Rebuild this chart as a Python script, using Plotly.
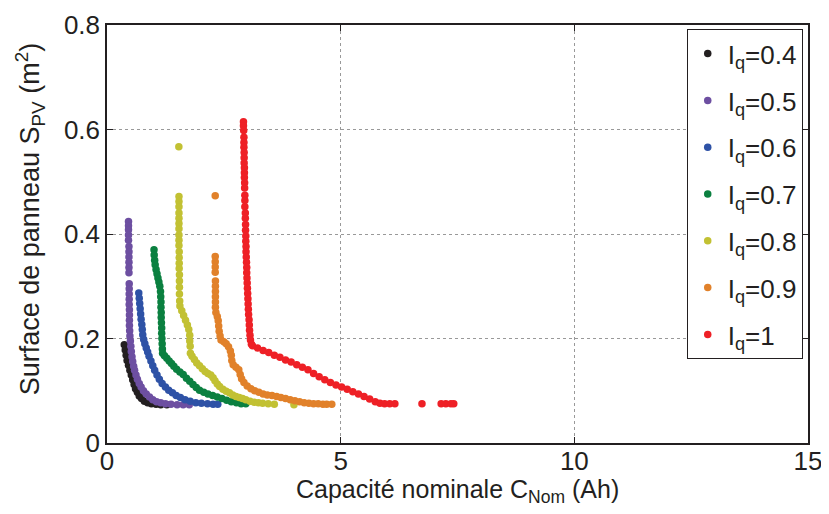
import plotly.graph_objects as go

# Iq = 0.4
iq04_x = [0.37, 0.39, 0.41, 0.43, 0.46, 0.49, 0.52, 0.55, 0.58, 0.61, 0.65, 0.69, 0.74, 0.80, 0.87,
          0.95, 1.05, 1.15, 1.28]
iq04_y = [0.188, 0.178, 0.168, 0.158, 0.149, 0.139, 0.130, 0.121, 0.112, 0.104, 0.097, 0.090, 0.085,
          0.080, 0.077, 0.075, 0.074, 0.073, 0.073]

# Iq = 0.5
iq05_x = [0.46, 0.46, 0.46, 0.46, 0.46, 0.47, 0.47, 0.47, 0.47, 0.47, 0.47, 0.475, 0.475, 0.475, 0.475,
          0.475, 0.48, 0.48, 0.48, 0.48, 0.485, 0.49, 0.50, 0.51, 0.52, 0.535, 0.55, 0.57, 0.59, 0.62,
          0.65, 0.69, 0.73, 0.78, 0.84, 0.91, 0.98, 1.06, 1.15, 1.25, 1.37, 1.50, 1.63, 1.76]
iq05_y = [0.424, 0.416, 0.408, 0.398, 0.388, 0.376, 0.366, 0.356, 0.346, 0.336, 0.326, 0.305, 0.295,
          0.285, 0.275, 0.265, 0.255, 0.245, 0.235, 0.225, 0.215, 0.205, 0.195, 0.185, 0.175, 0.165,
          0.156, 0.147, 0.139, 0.130, 0.122, 0.114, 0.107, 0.100, 0.094, 0.088, 0.083, 0.079, 0.077,
          0.075, 0.074, 0.073, 0.073, 0.073]

# Iq = 0.6
iq06_x = [0.68, 0.69, 0.70, 0.71, 0.72, 0.73, 0.745, 0.755, 0.765, 0.785, 0.81, 0.84, 0.87, 0.90, 0.94,
          0.98, 1.02, 1.07, 1.12, 1.18, 1.25, 1.32, 1.40, 1.48, 1.57, 1.67, 1.78, 1.90, 2.02, 2.15,
          2.27, 2.37]
iq06_y = [0.287, 0.277, 0.267, 0.257, 0.247, 0.237, 0.227, 0.217, 0.207, 0.198, 0.190, 0.182, 0.174,
          0.166, 0.157, 0.148, 0.139, 0.130, 0.122, 0.114, 0.107, 0.101, 0.096, 0.091, 0.087, 0.083,
          0.080, 0.077, 0.076, 0.075, 0.074, 0.074]

# Iq = 0.7
iq07_x = [1.006, 1.01, 1.02, 1.03, 1.05, 1.07, 1.09, 1.11, 1.13, 1.145, 1.15, 1.155, 1.155, 1.16, 1.16,
          1.165, 1.17, 1.17, 1.175, 1.18, 1.185, 1.19, 1.23, 1.28, 1.33, 1.38, 1.43, 1.49, 1.56, 1.63,
          1.70, 1.77, 1.84, 1.91, 1.98, 2.07, 2.16, 2.26, 2.36, 2.46, 2.56, 2.66, 2.77, 2.87, 2.97]
iq07_y = [0.370, 0.360, 0.350, 0.341, 0.332, 0.324, 0.316, 0.308, 0.300, 0.290, 0.280, 0.270, 0.260,
          0.250, 0.240, 0.230, 0.220, 0.210, 0.200, 0.190, 0.180, 0.172, 0.167, 0.162, 0.157, 0.152,
          0.147, 0.141, 0.136, 0.131, 0.124, 0.118, 0.112, 0.106, 0.101, 0.097, 0.094, 0.091, 0.088,
          0.085, 0.082, 0.079, 0.077, 0.075, 0.075]

# Iq = 0.8
iq08_x = [1.537, 1.54, 1.54, 1.54, 1.54, 1.54, 1.54, 1.54, 1.54, 1.54, 1.54, 1.545, 1.545, 1.545,
          1.545, 1.55, 1.55, 1.55, 1.55, 1.555, 1.56, 1.60, 1.64, 1.68, 1.72, 1.75, 1.77, 1.77, 1.78,
          1.785, 1.82, 1.87, 1.92, 1.98, 2.04, 2.10, 2.16, 2.22, 2.27, 2.31, 2.36, 2.41, 2.48, 2.55,
          2.62, 2.69, 2.76, 2.83, 2.90, 2.97, 3.06, 3.15, 3.24, 3.33, 3.45, 3.58, 4.00]
iq08_y = [0.567, 0.472, 0.462, 0.452, 0.440, 0.430, 0.420, 0.410, 0.398, 0.388, 0.378, 0.366, 0.355,
          0.344, 0.334, 0.322, 0.310, 0.298, 0.285, 0.272, 0.262, 0.253, 0.244, 0.235, 0.226, 0.217,
          0.206, 0.195, 0.185, 0.172, 0.166, 0.160, 0.153, 0.148, 0.142, 0.137, 0.133, 0.130, 0.125,
          0.119, 0.113, 0.108, 0.103, 0.099, 0.096, 0.092, 0.089, 0.087, 0.085, 0.083, 0.080, 0.078,
          0.077, 0.076, 0.075, 0.074, 0.073]

# Iq = 0.9
iq09_x = [2.316, 2.316, 2.316, 2.316, 2.316, 2.32, 2.32, 2.32, 2.32, 2.32, 2.32, 2.33, 2.36, 2.38,
          2.39, 2.40, 2.42, 2.44, 2.50, 2.55, 2.60, 2.64, 2.66, 2.67, 2.70, 2.76, 2.82, 2.85, 2.88,
          2.93, 3.00, 3.08, 3.16, 3.25, 3.34, 3.43, 3.53, 3.63, 3.72, 3.82, 3.92, 4.02, 4.12, 4.22,
          4.32, 4.42, 4.52, 4.62, 4.70, 4.81]
iq09_y = [0.473, 0.357, 0.347, 0.337, 0.327, 0.310, 0.300, 0.290, 0.280, 0.270, 0.260, 0.250, 0.242,
          0.234, 0.224, 0.214, 0.205, 0.197, 0.194, 0.190, 0.184, 0.176, 0.168, 0.158, 0.150, 0.145,
          0.140, 0.131, 0.123, 0.116, 0.109, 0.104, 0.100, 0.097, 0.094, 0.092, 0.091, 0.089, 0.087,
          0.085, 0.083, 0.081, 0.079, 0.077, 0.076, 0.075, 0.075, 0.074, 0.074, 0.074]

# Iq = 1
iq10_x = [2.92, 2.92, 2.925, 2.93, 2.93, 2.93, 2.935, 2.935, 2.935, 2.94, 2.94, 2.94, 2.945, 2.945,
          2.95, 2.95, 2.95, 2.96, 2.96, 2.965, 2.965, 2.97, 2.97, 2.975, 2.975, 2.98, 2.985, 2.99,
          2.99, 2.995, 3.00, 3.005, 3.01, 3.015, 3.02, 3.025, 3.03, 3.04, 3.045, 3.05, 3.06, 3.07,
          3.09, 3.115, 3.22, 3.34, 3.46, 3.58, 3.70, 3.82, 3.94, 4.06, 4.18, 4.30, 4.42, 4.54, 4.66,
          4.78, 4.90, 5.02, 5.14, 5.26, 5.38, 5.50, 5.62, 5.74, 5.84, 5.94, 6.05, 6.16, 6.74, 7.15,
          7.25, 7.36, 7.42]
iq10_y = [0.615, 0.607, 0.598, 0.585, 0.575, 0.566, 0.556, 0.546, 0.536, 0.527, 0.517, 0.508, 0.498,
          0.488, 0.474, 0.464, 0.452, 0.440, 0.430, 0.418, 0.407, 0.396, 0.386, 0.376, 0.366, 0.356,
          0.346, 0.336, 0.326, 0.316, 0.306, 0.296, 0.286, 0.276, 0.266, 0.256, 0.246, 0.236, 0.226,
          0.216, 0.206, 0.197, 0.189, 0.186, 0.182, 0.177, 0.173, 0.168, 0.164, 0.159, 0.155, 0.150,
          0.145, 0.140, 0.133, 0.127, 0.121, 0.116, 0.111, 0.107, 0.103, 0.098, 0.094, 0.089, 0.084,
          0.079, 0.076, 0.075, 0.075, 0.075, 0.075, 0.075, 0.075, 0.075, 0.075]

labels = ['0.4', '0.5', '0.6', '0.7', '0.8', '0.9', '1']
colors = ['#231f20', '#6d4fa1', '#2e52a6', '#0b8040', '#c2c133', '#e1812a', '#ee2026']
xs = [iq04_x, iq05_x, iq06_x, iq07_x, iq08_x, iq09_x, iq10_x]
ys = [iq04_y, iq05_y, iq06_y, iq07_y, iq08_y, iq09_y, iq10_y]

fig = go.Figure()
for i, (lab, col, x, y) in enumerate(zip(labels, colors, xs, ys)):
    fig.add_trace(go.Scatter(
        x=x, y=y, mode='markers', name=f'I<sub>q</sub>={lab}',
        legendgroup=f'g{i}',
        marker=dict(color=col, size=7.5, line=dict(width=0)),
    ))

axis_common = dict(
    showline=True, linecolor='#231f20', linewidth=1.5, mirror='ticks',
    ticks='inside', ticklen=6, tickcolor='#231f20',
    showgrid=True, gridcolor='#999999', griddash='dot', gridwidth=1,
    zeroline=False, automargin=False, tickfont=dict(size=26, color='#231f20'),
)

# the page body adds 8px around the figure, so the figure is 8px smaller
fig.update_layout(
    template='none',
    width=821, height=506,
    margin=dict(l=99, r=21, t=17, b=71),
    plot_bgcolor='white', paper_bgcolor='white',
    font=dict(family='Liberation Sans, Arial, sans-serif', color='#231f20'),
    xaxis=dict(range=[0, 15], tickvals=[0, 5, 10, 15], ticklabelstandoff=-6, **axis_common),
    yaxis=dict(range=[0, 0.8], tickvals=[0, 0.2, 0.4, 0.6, 0.8], ticktext=['0', '0.2', '0.4', '0.6', '0.8'],
               **axis_common),
    legend=dict(x=0.827, y=0.99, xanchor='left', yanchor='top',
                bgcolor='white', bordercolor='#231f20', borderwidth=1,
                font=dict(size=26), tracegroupgap=10, itemwidth=30),
    annotations=[
        dict(text='Capacité nominale C<sub>Nom</sub> (Ah)', xref='paper', yref='paper',
             x=0.5, y=-0.115, xanchor='center', yanchor='middle', showarrow=False,
             font=dict(size=25)),
        dict(text='Surface de panneau S<sub>PV</sub> (m<sup>2</sup>)', xref='paper', yref='paper',
             x=-0.11, y=0.535, xanchor='center', yanchor='middle', textangle=-90, showarrow=False,
             font=dict(size=27)),
    ],
)

fig.write_html("out.html")
